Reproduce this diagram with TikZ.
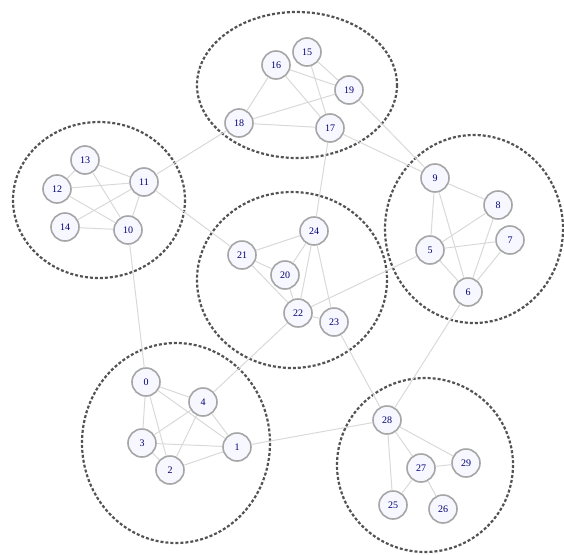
\documentclass[tikz,border=0pt]{standalone}
\usepackage{fontspec}
\setmainfont{Liberation Serif}
\usepackage{tikz}
\usetikzlibrary{positioning,calc}

\begin{document}
\begin{tikzpicture}[
  x=1pt, y=-1pt,
  vtx/.style={draw=gray!70, circle, line width=1.6pt, fill=blue!3, inner sep=0pt,
              minimum size=28pt, font=\normalsize, text=blue!45!black},
  link/.style={gray!30, line width=1pt},
  cluster/.style={draw=gray!65!black, line width=2.2pt, dash pattern=on 3pt off 2pt}
]
\useasboundingbox (0,0) rectangle (564,554);

% communities
\draw[cluster] (297,85) ellipse (100 and 73);
\draw[cluster] (99,200) ellipse (86 and 78);
\draw[cluster] (292,280) ellipse (95 and 88);
\draw[cluster] (474,229) ellipse (89 and 94);
\draw[cluster] (176,443) ellipse (94 and 100);
\draw[cluster] (425,465) ellipse (88 and 87);

% vertices
\node[vtx] (v0) at (146,382) {0};
\node[vtx] (v1) at (237,447) {1};
\node[vtx] (v2) at (170,470) {2};
\node[vtx] (v3) at (142,443) {3};
\node[vtx] (v4) at (203,402) {4};
\node[vtx] (v5) at (430,250) {5};
\node[vtx] (v6) at (468,292) {6};
\node[vtx] (v7) at (510,240) {7};
\node[vtx] (v8) at (498,205) {8};
\node[vtx] (v9) at (435,178) {9};
\node[vtx] (v10) at (128,230) {10};
\node[vtx] (v11) at (144,182) {11};
\node[vtx] (v12) at (57,189) {12};
\node[vtx] (v13) at (85,160) {13};
\node[vtx] (v14) at (65,227) {14};
\node[vtx] (v15) at (307,52) {15};
\node[vtx] (v16) at (276,65) {16};
\node[vtx] (v17) at (330,128) {17};
\node[vtx] (v18) at (239,123) {18};
\node[vtx] (v19) at (349,90) {19};
\node[vtx] (v20) at (285,275) {20};
\node[vtx] (v21) at (242,255) {21};
\node[vtx] (v22) at (298,313) {22};
\node[vtx] (v23) at (334,322) {23};
\node[vtx] (v24) at (314,231) {24};
\node[vtx] (v25) at (393,505) {25};
\node[vtx] (v26) at (443,509) {26};
\node[vtx] (v27) at (421,468) {27};
\node[vtx] (v28) at (387,420) {28};
\node[vtx] (v29) at (466,463) {29};

% edges inside communities
\draw[link] (v0) -- (v3);
\draw[link] (v0) -- (v2);
\draw[link] (v0) -- (v4);
\draw[link] (v0) -- (v1);
\draw[link] (v4) -- (v3);
\draw[link] (v4) -- (v2);
\draw[link] (v4) -- (v1);
\draw[link] (v3) -- (v2);
\draw[link] (v3) -- (v1);
\draw[link] (v2) -- (v1);
\draw[link] (v9) -- (v5);
\draw[link] (v9) -- (v6);
\draw[link] (v9) -- (v8);
\draw[link] (v5) -- (v7);
\draw[link] (v5) -- (v6);
\draw[link] (v5) -- (v8);
\draw[link] (v8) -- (v6);
\draw[link] (v7) -- (v6);
\draw[link] (v13) -- (v11);
\draw[link] (v13) -- (v10);
\draw[link] (v13) -- (v12);
\draw[link] (v12) -- (v11);
\draw[link] (v12) -- (v10);
\draw[link] (v14) -- (v10);
\draw[link] (v14) -- (v11);
\draw[link] (v11) -- (v10);
\draw[link] (v16) -- (v18);
\draw[link] (v16) -- (v17);
\draw[link] (v16) -- (v19);
\draw[link] (v15) -- (v19);
\draw[link] (v15) -- (v17);
\draw[link] (v18) -- (v17);
\draw[link] (v18) -- (v19);
\draw[link] (v21) -- (v20);
\draw[link] (v21) -- (v24);
\draw[link] (v21) -- (v22);
\draw[link] (v20) -- (v24);
\draw[link] (v20) -- (v22);
\draw[link] (v24) -- (v22);
\draw[link] (v24) -- (v23);
\draw[link] (v22) -- (v23);
\draw[link] (v28) -- (v25);
\draw[link] (v28) -- (v27);
\draw[link] (v28) -- (v29);
\draw[link] (v27) -- (v25);
\draw[link] (v27) -- (v26);
\draw[link] (v27) -- (v29);

% edges between communities
\draw[link] (v18) -- (v11);
\draw[link] (v11) -- (v21);
\draw[link] (v10) -- (v0);
\draw[link] (v17) -- (v24);
\draw[link] (v19) -- (v9);
\draw[link] (v17) -- (v9);
\draw[link] (v22) -- (v5);
\draw[link] (v22) -- (v4);
\draw[link] (v23) -- (v28);
\draw[link] (v6) -- (v28);
\draw[link] (v1) -- (v28);
\end{tikzpicture}
\end{document}
